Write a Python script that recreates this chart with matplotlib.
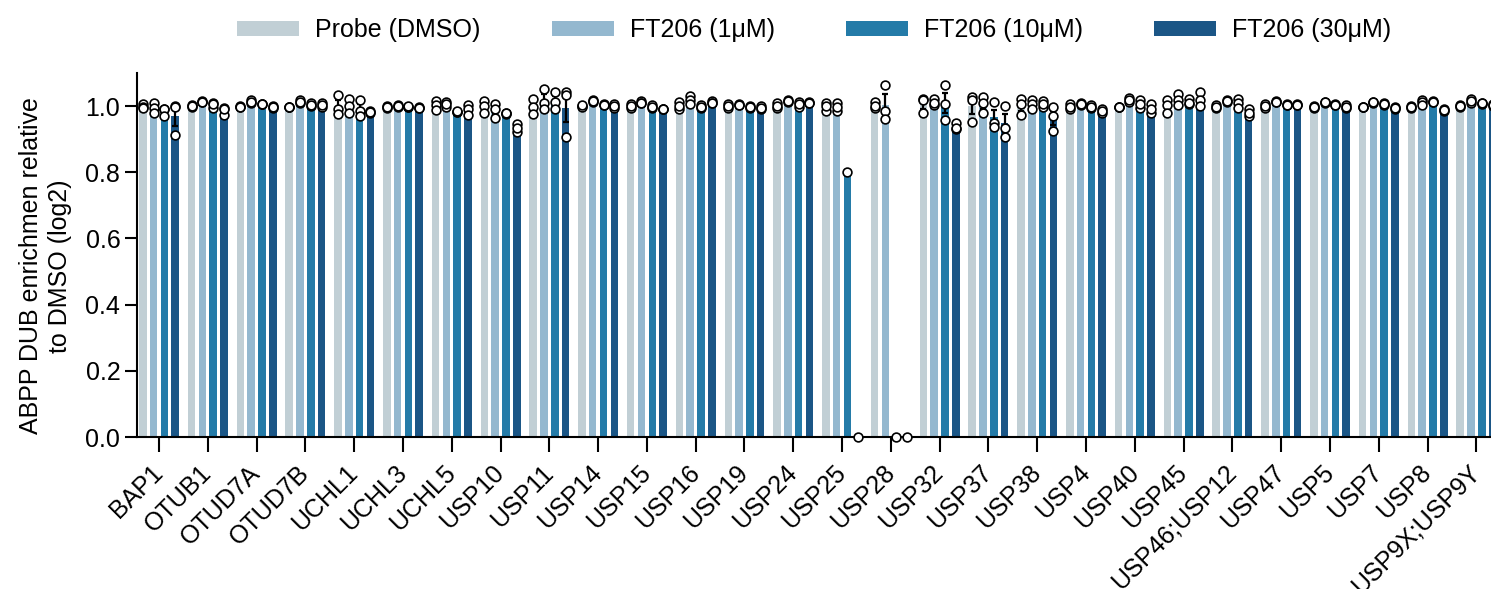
import numpy as np
import matplotlib
matplotlib.use('Agg')
import matplotlib.pyplot as plt

plt.rcParams['font.family'] = ['Liberation Sans', 'DejaVu Sans']
plt.rcParams['font.size'] = 18

# DUBs picked up by the activity-based probe
dubs = ['BAP1', 'OTUB1', 'OTUD7A', 'OTUD7B', 'UCHL1', 'UCHL3', 'UCHL5', 'USP10',
        'USP11', 'USP14', 'USP15', 'USP16', 'USP19', 'USP24', 'USP25', 'USP28',
        'USP32', 'USP37', 'USP38', 'USP4', 'USP40', 'USP45', 'USP46;USP12',
        'USP47', 'USP5', 'USP7', 'USP8', 'USP9X;USP9Y']

# replicate enrichment values (log2, relative to DMSO)
probe_dmso = [
    [1.005, 0.998, 0.995], [1.002, 0.997, 0.999], [0.998, 1.0, 0.997], [0.998, 0.998, 0.998],
    [1.035, 0.99, 0.975], [1.0, 0.995, 0.998], [1.015, 1.002, 0.987], [1.015, 1.0, 0.98],
    [1.022, 0.998, 0.975], [1.0, 0.998, 1.002], [1.005, 0.995, 1.0], [1.012, 0.99, 1.0],
    [1.005, 0.995, 1.0], [1.01, 0.995, 1.0], [1.01, 0.985, 1.0], [1.012, 0.995, 1.0],
    [1.022, 1.019, 0.979], [1.028, 1.018, 0.953], [1.022, 1.005, 0.972], [1.005, 0.99, 0.998],
    [0.998, 0.998, 0.998], [1.018, 1.002, 0.98], [1.002, 0.995, 0.998], [1.005, 0.995, 1.0],
    [1.0, 0.995, 0.998], [0.998, 0.998, 0.997], [1.0, 0.995, 0.998], [1.002, 0.998, 1.0],
]
ft206_1uM = [
    [1.01, 0.995, 0.978], [1.015, 1.012, 1.013], [1.018, 1.01, 1.012], [1.02, 1.01, 1.012],
    [1.022, 1.0, 0.98], [1.002, 0.998, 1.0], [1.012, 0.998, 1.005], [1.005, 0.99, 0.965],
    [1.052, 1.01, 0.99], [1.018, 1.012, 1.015], [1.015, 1.008, 1.01], [1.03, 1.02, 1.005],
    [1.005, 1.003, 1.004], [1.02, 1.012, 1.015], [1.01, 0.985, 0.998], [1.065, 0.985, 0.962],
    [1.022, 1.002, 1.01], [1.028, 1.01, 0.978], [1.02, 1.005, 0.99], [1.008, 1.002, 1.005],
    [1.025, 1.012, 1.018], [1.038, 1.018, 1.002], [1.018, 1.012, 1.015], [1.015, 1.012, 1.013],
    [1.012, 1.01, 1.011], [1.012, 1.01, 1.011], [1.018, 1.012, 1.002], [1.022, 1.01, 1.015],
]
ft206_10uM = [
    [0.992, 0.99, 0.97], [1.008, 0.995, 1.005], [1.007, 1.005, 1.006], [1.008, 1.0, 1.003],
    [1.018, 0.985, 0.97], [0.998, 0.998, 0.999], [0.982, 0.982, 0.985], [0.978, 0.975, 0.98],
    [1.042, 1.012, 0.99], [1.005, 1.003, 1.004], [1.002, 0.995, 0.998], [1.002, 0.995, 0.998],
    [1.0, 0.995, 0.998], [1.012, 0.998, 1.005], [0.8], [0.0],
    [1.065, 0.958, 1.007], [1.012, 0.95, 0.938], [1.015, 0.998, 1.005], [1.002, 0.995, 0.998],
    [1.018, 0.995, 1.005], [1.022, 1.005, 1.01], [1.022, 1.01, 0.995], [1.005, 1.003, 1.004],
    [1.005, 1.003, 1.004], [1.008, 1.002, 1.005], [1.015, 1.012, 1.013], [1.01, 1.005, 1.008],
]
ft206_30uM = [
    [1.0, 0.998, 0.912], [0.995, 0.972, 0.99], [1.0, 0.995, 0.997], [1.008, 0.998, 1.002],
    [0.985, 0.98, 0.982], [0.998, 0.993, 0.995], [1.002, 0.99, 0.972], [0.945, 0.922, 0.935],
    [1.042, 1.035, 0.908], [1.005, 0.995, 1.0], [0.99, 0.99, 0.992], [1.015, 1.008, 1.01],
    [1.0, 0.99, 0.995], [1.012, 1.008, 1.01], [0.0], [0.0],
    [0.95, 0.93, 0.935], [1.0, 0.935, 0.908], [0.998, 0.925, 0.97], [0.992, 0.978, 0.985],
    [1.005, 0.978, 0.99], [1.042, 1.018, 1.0], [0.99, 0.97, 0.98], [1.005, 1.003, 1.004],
    [1.002, 0.995, 0.998], [0.998, 0.992, 0.995], [0.992, 0.985, 0.988], [1.005, 1.0, 1.003],
]

series = [probe_dmso, ft206_1uM, ft206_10uM, ft206_30uM]
labels = ['Probe (DMSO)', 'FT206 (1\u03bcM)', 'FT206 (10\u03bcM)', 'FT206 (30\u03bcM)']
colors = ['#c1cfd5', '#94b8cf', '#247ba8', '#1b5686']
offsets = [-0.332, -0.111, 0.111, 0.332]
bar_w = 0.155

fig = plt.figure(figsize=(14.91, 5.89), dpi=100)
ax = fig.add_axes([0.0919, 0.258, 0.9081, 0.618])

x = np.arange(len(dubs))
for reps, lab, col, off in zip(series, labels, colors, offsets):
    means = np.array([np.mean(r) for r in reps])
    sems = np.array([np.std(r, ddof=1) / np.sqrt(len(r)) if len(r) > 1 else 0.0 for r in reps])
    ax.bar(x + off, means, bar_w, color=col, label=lab, zorder=2)
    ax.errorbar(x + off, means, yerr=sems, fmt='none', ecolor='black',
                elinewidth=1.6, capsize=2.2, capthick=1.6, zorder=3)
    for xi, r in zip(x, reps):
        ax.scatter(np.full(len(r), xi + off), r, s=40, facecolor='white',
                   edgecolor='black', linewidth=1.2, zorder=4, clip_on=False)

ax.set_xlim(-0.45, 27.3)
ax.set_ylim(0, 1.1)
ax.set_yticks(np.arange(0, 1.01, 0.2))
ax.set_yticklabels([f'{v:.1f}' for v in np.arange(0, 1.01, 0.2)])
ax.set_xticks(x)
ax.set_xticklabels(dubs, rotation=45, ha='right', va='center', rotation_mode='anchor')

for side in ['top', 'right']:
    ax.spines[side].set_visible(False)
for side in ['left', 'bottom']:
    ax.spines[side].set_linewidth(1.5)
ax.tick_params(axis='y', length=8.5, width=1.5, labelsize=18)
ax.tick_params(axis='x', length=11, width=1.5, labelsize=18, pad=12)

ax.set_ylabel('ABPP DUB enrichmen relative\nto DMSO (log2)', fontsize=18,
              linespacing=1.25)
ax.yaxis.set_label_coords(-0.048, 0.47)

ax.legend(loc='center', bbox_to_anchor=(0.5, 1.118), ncol=4, frameon=False,
          fontsize=18, handlelength=2.48, handleheight=0.52,
          handletextpad=0.64, columnspacing=2.85)

fig.savefig('out.png', dpi=100)
